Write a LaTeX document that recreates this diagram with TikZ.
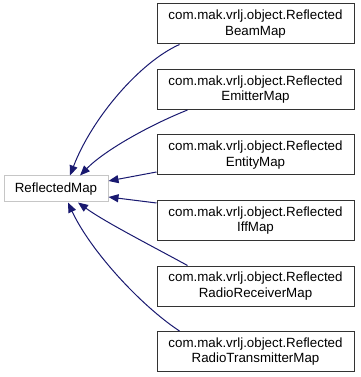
\documentclass[tikz,border=0pt]{standalone}
\usepackage{fontspec}
\setmainfont{Liberation Sans}
\usetikzlibrary{arrows.meta, calc}

\definecolor{edgeblue}{HTML}{191970}

\begin{document}
\begin{tikzpicture}[x=0.75pt, y=-0.75pt,
  cls/.style={draw=black!80, fill=white, line width=0.75pt,
              minimum width=147.75pt, minimum height=30pt,
              inner sep=0pt, align=center,
              font=\fontsize{10}{11.5}\selectfont},
  base/.style={cls, draw=gray!45, minimum width=78pt,
               minimum height=19.5pt},
  inh/.style={draw=edgeblue, line width=0.75pt,
              -{Triangle[length=7.5pt, width=6pt]}},
]
  \useasboundingbox (0,0) rectangle (360,377);

  % === Base class ===
  \node[base] (rmap) at (56,189) {ReflectedMap};

  % === Derived classes ===
  \node[cls] (beam)    at (255.5,24)    {com.mak.vrlj.object.Reflected\\BeamMap};
  \node[cls] (emitter) at (255.5,89.5)  {com.mak.vrlj.object.Reflected\\EmitterMap};
  \node[cls] (entity)  at (255.5,155)   {com.mak.vrlj.object.Reflected\\EntityMap};
  \node[cls] (iff)     at (255.5,220.5) {com.mak.vrlj.object.Reflected\\IffMap};
  \node[cls] (recv)    at (255.5,286)   {com.mak.vrlj.object.Reflected\\RadioReceiverMap};
  \node[cls] (trans)   at (255.5,351.5) {com.mak.vrlj.object.Reflected\\RadioTransmitterMap};

  % === Inheritance edges ===
  \draw[inh] ($(beam.south west)+(23,0)$)
    .. controls (140,62) and (92,118) .. ($(rmap.north)+(14,0)$);
  \draw[inh] ($(emitter.south west)+(31,0)$)
    .. controls (150,125) and (105,150) .. ($(rmap.north)+(24,0)$);
  \draw[inh] ($(entity.west)+(0,17)$) -- ($(rmap.east)+(0,-8)$);
  \draw[inh] ($(iff.north west)+(0,3)$) -- ($(rmap.east)+(0,8)$);
  \draw[inh] ($(recv.north west)+(31,0)$)
    .. controls (150,245) and (105,222) .. ($(rmap.south)+(22,0)$);
  \draw[inh] ($(trans.north west)+(23,0)$)
    .. controls (140,305) and (90,250) .. ($(rmap.south)+(12,0)$);

\end{tikzpicture}
\end{document}
